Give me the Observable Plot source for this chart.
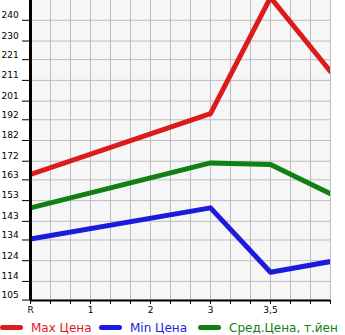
<!DOCTYPE html>
<html><head><meta charset="utf-8">
<script src="https://cdn.jsdelivr.net/npm/d3@7"></script>
<script src="https://cdn.jsdelivr.net/npm/@observablehq/plot@0.6"></script>
<style>
body{margin:0;background:#fff;overflow:hidden;}
#chart svg{display:block;}
#legend{display:flex;align-items:center;height:17px;margin-top:1px;font:12px "DejaVu Sans",sans-serif;white-space:nowrap;}
.item{display:flex;align-items:center;width:99px;flex:none;}
.sw{display:inline-block;width:23px;height:5px;border-radius:3px;margin-right:8px;flex:none;}
</style></head>
<body><div id="chart"></div><div id="legend"></div>
<script>
const xLabels = ["R","1","2","3","3,5"];
const pointIndex = [0, 3, 4, 5];
const maxPrice = [165.6, 195.0, 251.0, 215.3];
const minPrice = [134.5, 149.5, 118.4, 123.6];
const avgPrice = [149.5, 171.2, 170.4, 156.3];
const yTicks = [105,114,124,134,143,153,163,172,182,192,201,211,221,230,240];
const seriesNames = ["Max Цена","Min Цена","Сред.Цена, т.йен"];
const colors = ["#dd1b1b","#1b1bdd","#108010"];

const rows = [];
[maxPrice, minPrice, avgPrice].forEach((vals, s) => {
  vals.forEach((v, i) => rows.push({series: seriesNames[s], x: pointIndex[i], y: v}));
});
const grid = d3.range(0, 16).map(i => i / 3);
const yMin = 104.8, yMax = 249.55;

const chart = Plot.plot({
  width: 345, height: 318,
  marginLeft: 30, marginRight: 15, marginTop: 0, marginBottom: 18,
  x: {type: "linear", domain: [0, 5], axis: null, label: null},
  y: {type: "linear", domain: [yMin, yMax], axis: null, label: null},
  color: {domain: seriesNames, range: colors},
  style: {fontFamily: "DejaVu Sans", fontSize: "9px", background: "transparent"},
  marks: [
    Plot.frame({fill: "#f6f6f6", stroke: null}),
    Plot.ruleX(grid, {stroke: "#bdbdbd", strokeWidth: 1, strokeOpacity: 1}),
    Plot.ruleY(yTicks, {stroke: "#bdbdbd", strokeWidth: 1, strokeOpacity: 1}),
    Plot.line(rows, {x: "x", y: "y", z: "series", stroke: "series", strokeWidth: 5, strokeLinecap: "round", strokeLinejoin: "round", clip: true}),
    Plot.axisY({ticks: yTicks, tickSize: 8, tickFormat: () => "", stroke: "black", label: null}),
    Plot.text(yTicks, {y: d => d, frameAnchor: "left", text: d => String(d), textAnchor: "start", dx: -29, dy: -5, fill: "black", fontSize: 9}),
    Plot.axisX({ticks: grid, tickSize: 4, tickFormat: () => "", stroke: "black", label: null}),
    Plot.text(xLabels, {x: (d, i) => i, frameAnchor: "bottom", text: d => d, dy: 12, fill: "black", fontSize: 9}),
    Plot.ruleX([0], {stroke: "black", strokeWidth: 3}),
    Plot.ruleY([yMin], {stroke: "black", strokeWidth: 2})
  ]
});
document.getElementById("chart").appendChild(chart);

const legend = document.getElementById("legend");
seriesNames.forEach((n, i) => {
  const it = document.createElement("span");
  it.className = "item";
  it.innerHTML = `<span class="sw" style="background:${colors[i]}"></span><span style="color:${colors[i]}">${n}</span>`;
  legend.appendChild(it);
});
</script></body></html>
